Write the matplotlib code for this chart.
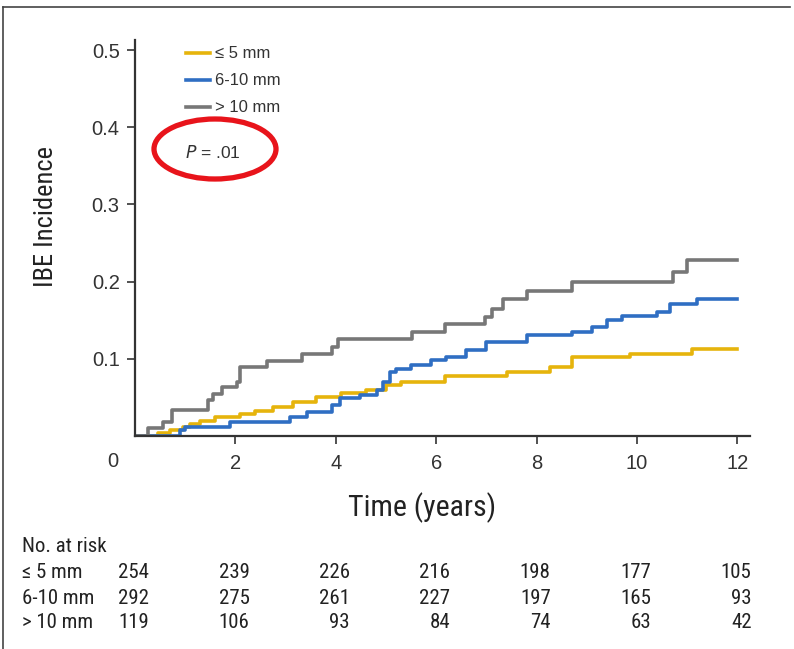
"""IBE incidence by lesion size, cumulative incidence with numbers at risk."""
import matplotlib

matplotlib.use("Agg")

import matplotlib.pyplot as plt
from matplotlib import font_manager
from matplotlib.lines import Line2D
from matplotlib.patches import Ellipse
from matplotlib.transforms import blended_transform_factory

# step curves: time (years) at which each step starts, and incidence after it
small_t = [0, 0.45, 0.7, 0.95, 1.1, 1.3, 1.6, 2.1, 2.4, 2.75, 3.15, 3.6, 4.1,
           4.6, 5.0, 5.3, 6.18, 7.4, 8.27, 8.7, 9.86, 11.1, 12]
small_v = [0, 0.004, 0.008, 0.012, 0.016, 0.02, 0.024, 0.028, 0.032, 0.038,
           0.044, 0.050, 0.056, 0.060, 0.066, 0.070, 0.078, 0.083, 0.089,
           0.102, 0.106, 0.113, 0.113]

mid_t = [0, 0.9, 1.0, 1.9, 3.09, 3.42, 3.92, 4.08, 4.48, 4.82, 4.94, 5.08,
         5.2, 5.5, 5.9, 6.2, 6.6, 7.0, 7.8, 8.7, 9.1, 9.4, 9.7, 10.4, 10.65,
         11.2, 12]
mid_v = [0, 0.008, 0.012, 0.018, 0.025, 0.031, 0.040, 0.049, 0.053, 0.060,
         0.070, 0.083, 0.087, 0.092, 0.098, 0.102, 0.111, 0.122, 0.131, 0.135,
         0.141, 0.150, 0.155, 0.161, 0.171, 0.177, 0.177]

large_t = [0, 0.26, 0.56, 0.74, 1.45, 1.55, 1.73, 2.03, 2.09, 2.63, 3.33,
           3.92, 4.04, 5.52, 6.18, 6.97, 7.11, 7.33, 7.81, 8.71, 10.72, 11.0,
           12]
large_v = [0, 0.01, 0.018, 0.034, 0.047, 0.054, 0.063, 0.07, 0.09, 0.097,
           0.106, 0.115, 0.126, 0.135, 0.145, 0.154, 0.165, 0.177, 0.188, 0.20,
           0.212, 0.228, 0.228]

group_labels = ["\u2264 5 mm", "6-10 mm", "> 10 mm"]
table_labels = ["\u2264 5 mm", "6-10 mm", "> 10 mm"]
risk_times = [0, 2, 4, 6, 8, 10, 12]
risk_small = [254, 239, 226, 216, 198, 177, 105]
risk_mid = [292, 275, 261, 227, 197, 165, 93]
risk_large = [119, 106, 93, 84, 74, 63, 42]

x_ticks = [2, 4, 6, 8, 10, 12]
y_ticks = [0.1, 0.2, 0.3, 0.4, 0.5]

COLORS = ["#E6B40C", "#2F6EC3", "#777777"]


def narrow_font():
    # look for any condensed sans face, else the plain one
    names = sorted({f.name for f in font_manager.fontManager.ttflist})
    for wanted in ["Liberation Sans Narrow", "Roboto Condensed",
                   "Noto Sans Condensed", "Open Sans Condensed",
                   "DejaVu Sans Condensed"]:
        if wanted in names:
            return wanted
    for name in names:
        if "Condensed" in name or "Narrow" in name:
            return name
    return "Liberation Sans"


def main():
    narrow = narrow_font()
    plt.rcParams["font.family"] = ["Liberation Sans", "DejaVu Sans"]

    fig = plt.figure(figsize=(7.94, 6.49), dpi=100)
    ax = fig.add_axes([0.170, 0.3282, 0.7746, 0.6102])

    curves = [(small_t, small_v), (mid_t, mid_v), (large_t, large_v)]
    for (times, values), color, label in zip(curves, COLORS, group_labels):
        ax.step(times, values, where="post", color=color, lw=2.6, label=label)

    ax.set_xlim(0, 12.25)
    ax.set_ylim(0, 0.513)
    ax.set_xticks(x_ticks)
    ax.set_yticks(y_ticks)
    ax.set_xticklabels([str(t) for t in x_ticks])
    ax.set_yticklabels([f"{v:.1f}" for v in y_ticks])
    ax.tick_params(direction="out", length=6, width=1.2, labelsize=14.5,
                   colors="#333333", pad=5)
    ax.tick_params(axis="x", pad=7)
    ax.text(-0.45, -0.033, "0", ha="center", va="center", fontsize=14.5,
            color="#333333")

    for side in ["top", "right"]:
        ax.spines[side].set_visible(False)
    for side in ["left", "bottom"]:
        ax.spines[side].set_linewidth(1.6)
        ax.spines[side].set_color("#333333")

    ax.set_ylabel("IBE Incidence", fontsize=19, family=narrow,
                  color="#222222")
    ax.set_xlabel("Time (years)", fontsize=21.5, family=narrow,
                  color="#222222")
    ax.yaxis.set_label_coords((58 - 135) / 615, (436 - 217) / 396)
    ax.xaxis.set_label_coords((422 - 135) / 615, -(492 - 436) / 396)

    ax.legend(loc="upper left", bbox_to_anchor=(178 / 794, 1 - 38 / 649),
              bbox_transform=fig.transFigure, frameon=False, fontsize=12,
              handlelength=1.4, handletextpad=0.3, labelspacing=0.72,
              borderpad=0, labelcolor="#333333")

    fig.text(185 / 794, 1 - 152 / 649, "$P$ = .01", fontsize=12.5,
             color="#333333", va="center", ha="left")
    fig.add_artist(Ellipse((215 / 794, 1 - 149 / 649), 122 / 794, 60 / 649,
                           transform=fig.transFigure, fill=False,
                           edgecolor="#E8141B", lw=3.8))

    # numbers at risk table under the plot
    trans = blended_transform_factory(ax.transData, fig.transFigure)
    fig.text(22 / 794, 1 - 546 / 649, "No. at risk", fontsize=15,
             family=narrow, va="center", color="#222222")
    rows = [risk_small, risk_mid, risk_large]
    row_y = [573, 598, 622]
    for label, counts, y_px in zip(table_labels, rows, row_y):
        y = 1 - y_px / 649
        fig.text(22 / 794, y, label, fontsize=15, family=narrow,
                 va="center", color="#222222")
        for t, n in zip(risk_times, counts):
            ax.text(t + 0.28, y, str(n), transform=trans, ha="right",
                    va="center", fontsize=15, family=narrow,
                    color="#222222", clip_on=False)

    # frame lines along the top and left of the figure
    fig.add_artist(Line2D([3 / 794, 790 / 794], [1 - 7 / 649, 1 - 7 / 649],
                          transform=fig.transFigure, color="#444444", lw=1.2))
    fig.add_artist(Line2D([3 / 794, 3 / 794], [0, 1 - 7 / 649],
                          transform=fig.transFigure, color="#444444", lw=1.2))

    fig.savefig("out.png", dpi=100)


if __name__ == "__main__":
    main()
